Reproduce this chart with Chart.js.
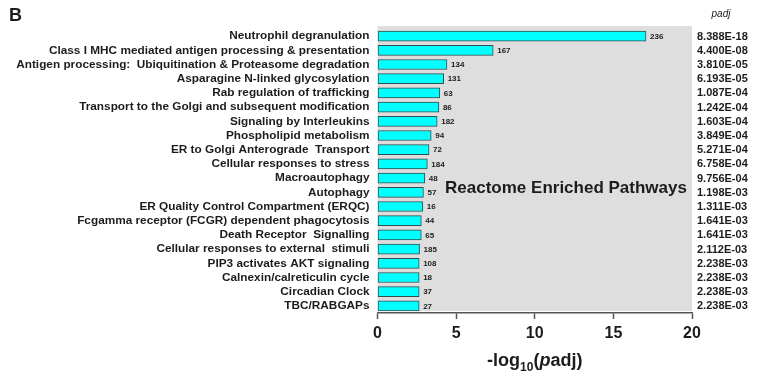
<!DOCTYPE html>
<html>
<head>
<meta charset="utf-8">
<script src="https://cdn.jsdelivr.net/npm/chart.js@4/dist/chart.umd.min.js"></script>
<style>
  html, body { margin: 0; padding: 0; background: #ffffff; }
  #wrap { width: 757px; height: 382px; position: relative; }
</style>
</head>
<body>
<div id="wrap"><canvas id="chart" width="757" height="382"></canvas></div>
<script>
// Reactome pathways, ordered by adjusted p-value
const pathways = [
  "Neutrophil degranulation",
  "Class I MHC mediated antigen processing & presentation",
  "Antigen processing:  Ubiquitination & Proteasome degradation",
  "Asparagine N-linked glycosylation",
  "Rab regulation of trafficking",
  "Transport to the Golgi and subsequent modification",
  "Signaling by Interleukins",
  "Phospholipid metabolism",
  "ER to Golgi Anterograde  Transport",
  "Cellular responses to stress",
  "Macroautophagy",
  "Autophagy",
  "ER Quality Control Compartment (ERQC)",
  "Fcgamma receptor (FCGR) dependent phagocytosis",
  "Death Receptor  Signalling",
  "Cellular responses to external  stimuli",
  "PIP3 activates AKT signaling",
  "Calnexin/calreticulin cycle",
  "Circadian Clock",
  "TBC/RABGAPs"
];

// adjusted p-values as printed in the right-hand column
const padjText = [
  "8.388E-18", "4.400E-08", "3.810E-05", "6.193E-05", "1.087E-04",
  "1.242E-04", "1.603E-04", "3.849E-04", "5.271E-04", "6.758E-04",
  "9.756E-04", "1.198E-03", "1.311E-03", "1.641E-03", "1.641E-03",
  "2.112E-03", "2.238E-03", "2.238E-03", "2.238E-03", "2.238E-03"
];

// number of genes in each pathway
const geneCounts = [236, 167, 134, 131, 63, 86, 182, 94, 72, 184, 48, 57, 16, 44, 65, 185, 108, 18, 37, 27];

// x-axis ticks
const xTicks = [0, 5, 10, 15, 20];

// bar length is -log10(padj)
const padjValues = padjText.map(Number);
const negLog = padjValues.map(p => -Math.log10(p));

const FONT = '"Liberation Sans", Arial, Helvetica, sans-serif';
const TEXT = '#1c1c1c';

const decorations = {
  id: 'decorations',
  beforeDraw(chart) {
    const { ctx, chartArea: a } = chart;
    ctx.save();
    ctx.fillStyle = '#dedede';
    ctx.fillRect(a.left, a.top - 3, a.right - a.left, a.bottom - a.top + 1);
    ctx.restore();
  },
  afterDatasetsDraw(chart) {
    const { ctx, chartArea: a } = chart;
    const bars = chart.getDatasetMeta(0).data;
    ctx.save();
    ctx.fillStyle = TEXT;
    ctx.textBaseline = 'middle';
    // gene counts beside each bar
    ctx.font = 'bold 8px ' + FONT;
    ctx.textAlign = 'left';
    bars.forEach((bar, i) => {
      ctx.fillText(String(geneCounts[i]), bar.x + 4, bar.y + 0.5);
    });
    // padj column
    ctx.font = 'bold 11px ' + FONT;
    bars.forEach((bar, i) => {
      ctx.fillText(padjText[i], 697, bar.y + 0.5);
    });
    ctx.font = 'italic 10px ' + FONT;
    ctx.textAlign = 'center';
    ctx.fillText('padj', 721, 14);

    // panel letter
    ctx.font = 'bold 18px ' + FONT;
    ctx.textAlign = 'left';
    ctx.fillText('B', 9, 16);

    // inset title
    ctx.font = 'bold 17px ' + FONT;
    ctx.textAlign = 'center';
    ctx.fillText('Reactome Enriched Pathways', 566, 188);

    // x-axis title: -log10(padj)
    const parts = [
      { t: '-log', f: 'bold 18px ' + FONT, dy: 0 },
      { t: '10', f: 'bold 12px ' + FONT, dy: 5 },
      { t: '(', f: 'bold 18px ' + FONT, dy: 0 },
      { t: 'p', f: 'bold italic 18px ' + FONT, dy: 0 },
      { t: 'adj)', f: 'bold 18px ' + FONT, dy: 0 }
    ];
    let total = 0;
    parts.forEach(p => { ctx.font = p.f; p.w = ctx.measureText(p.t).width; total += p.w; });
    let x = (a.left + a.right) / 2 - total / 2;
    const base = 366;
    ctx.textAlign = 'left';
    ctx.textBaseline = 'alphabetic';
    parts.forEach(p => {
      ctx.font = p.f;
      ctx.fillText(p.t, x, base + p.dy);
      x += p.w;
    });
    ctx.restore();
  }
};

new Chart(document.getElementById('chart'), {
  type: 'bar',
  data: {
    labels: pathways,
    datasets: [{
      data: negLog,
      backgroundColor: '#00ffff',
      borderColor: '#2f4f4f',
      borderWidth: 1,
      borderSkipped: false,
      barThickness: 10
    }]
  },
  options: {
    indexAxis: 'y',
    responsive: false,
    animation: false,
    devicePixelRatio: 1,
    layout: { padding: { left: 0, right: 65, top: 29, bottom: 0 } },
    plugins: { legend: { display: false }, tooltip: { enabled: false } },
    scales: {
      x: {
        min: 0,
        max: 20,
        afterBuildTicks(scale) { scale.ticks = xTicks.map(v => ({ value: v })); },
        afterFit(scale) { scale.height = 69; },
        ticks: {
          font: { family: FONT, size: 16, weight: 'bold' },
          color: TEXT,
          padding: 5
        },
        grid: {
          display: true,
          drawOnChartArea: false,
          drawTicks: true,
          tickLength: 6,
          tickWidth: 1.5,
          tickColor: '#555555'
        },
        border: { display: true, color: '#555555', width: 1.5 }
      },
      y: {
        afterFit(scale) { scale.width = 377.5; },
        ticks: {
          font: { family: FONT, size: 11.8, weight: 'bold' },
          color: TEXT,
          padding: 8,
          autoSkip: false
        },
        grid: { display: false, drawTicks: false },
        border: { display: false }
      }
    }
  },
  plugins: [decorations]
});
</script>
</body>
</html>
